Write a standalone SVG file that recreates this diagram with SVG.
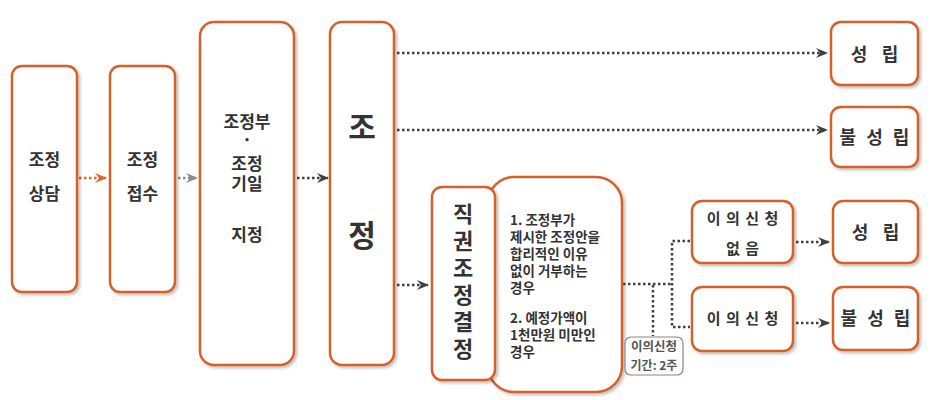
<svg xmlns="http://www.w3.org/2000/svg" width="937" height="400" viewBox="0 0 937 400">
<defs>
<filter id="sh" x="-20%" y="-20%" width="140%" height="140%">
<feDropShadow dx="2" dy="2" stdDeviation="1.5" flood-color="#000" flood-opacity="0.25"/>
</filter>
<marker id="ad" viewBox="0 0 12 10" refX="11" refY="5" markerWidth="12" markerHeight="10" markerUnits="userSpaceOnUse" orient="auto">
<path d="M0,0 L12,5 L0,10 L4,5 Z" fill="#404040"/>
</marker>
<marker id="ag" viewBox="0 0 12 10" refX="11" refY="5" markerWidth="12" markerHeight="10" markerUnits="userSpaceOnUse" orient="auto">
<path d="M0,0 L12,5 L0,10 L4,5 Z" fill="#8a8a8a"/>
</marker>
<marker id="ao" viewBox="0 0 12 10" refX="11" refY="5" markerWidth="12" markerHeight="10" markerUnits="userSpaceOnUse" orient="auto">
<path d="M0,0 L12,5 L0,10 L4,5 Z" fill="#E0662B"/>
</marker>
</defs>
<style>
.b{fill:#fff;stroke:#D4602A;stroke-width:2.5;filter:url(#sh)}
.t{font-family:"Noto Sans CJK KR","Noto Sans",sans-serif;font-weight:bold;fill:#333;text-anchor:middle}
.m{font-size:17px}
.r{font-size:18px}
.w{letter-spacing:3px}
.s{font-size:13.5px;text-anchor:start}
.big{font-size:30px}
.q{font-size:15px;letter-spacing:1px}
.d{fill:none;stroke:#404040;stroke-width:2.5;stroke-dasharray:2.5 2.5}
</style>
<g id="connectors">
<line x1="79" y1="178" x2="106" y2="178" class="d" style="stroke:#E0662B" marker-end="url(#ao)"/>
<line x1="178" y1="178" x2="197" y2="178" class="d" style="stroke:#8a8a8a" marker-end="url(#ag)"/>
<line x1="297" y1="178" x2="328" y2="178" class="d" marker-end="url(#ad)"/>
<line x1="397" y1="53" x2="827" y2="53" class="d" marker-end="url(#ad)"/>
<line x1="397" y1="130" x2="827" y2="130" class="d" marker-end="url(#ad)"/>
<line x1="397" y1="285" x2="428" y2="285" class="d" marker-end="url(#ad)"/>
<polyline points="623,284 672,284" class="d"/>
<polyline points="690,241 672,241 672,327 690,327" class="d"/>
<line x1="653" y1="285" x2="653" y2="336" class="d"/>
<line x1="796" y1="242" x2="829" y2="242" class="d" marker-end="url(#ad)"/>
<line x1="796" y1="323" x2="829" y2="323" class="d" marker-end="url(#ad)"/>
</g>
<g id="n1">
<rect x="12" y="66" width="65" height="226" rx="10" class="b"/>
<text x="44.5" y="166" class="t m">조정</text>
<text x="44.5" y="200" class="t m">상담</text>
</g>
<g id="n2">
<rect x="110" y="66" width="65" height="226" rx="10" class="b"/>
<text x="142.5" y="166" class="t m">조정</text>
<text x="142.5" y="200" class="t m">접수</text>
</g>
<g id="n3">
<rect x="200" y="22" width="94" height="343" rx="14" class="b"/>
<text x="247" y="128" class="t m">조정부</text>
<text x="247" y="146" class="t m">·</text>
<text x="247" y="170" class="t m">조정</text>
<text x="247" y="190" class="t m">기일</text>
<text x="247" y="241" class="t m">지정</text>
</g>
<g id="n4">
<rect x="330" y="22" width="64" height="343" rx="12" class="b"/>
<text x="362" y="138" class="t big">조</text>
<text x="362" y="246" class="t big">정</text>
</g>
<g id="n5">
<rect x="831" y="22" width="87" height="63" rx="10" class="b"/>
<text x="859" y="61" class="t r">성</text>
<text x="890" y="61" class="t r">립</text>
</g>
<g id="n6">
<rect x="831" y="107" width="87" height="60" rx="10" class="b"/>
<text x="876" y="144" class="t r w">불 성 립</text>
</g>
<g id="n7b">
<rect x="488" y="177" width="134" height="215" rx="26" class="b"/>
<text class="t s" x="510">
<tspan x="510" y="225">1. 조정부가</tspan>
<tspan x="510" y="242">제시한 조정안을</tspan>
<tspan x="510" y="259">합리적인 이유</tspan>
<tspan x="510" y="276">없이 거부하는</tspan>
<tspan x="510" y="293">경우</tspan>
<tspan x="510" y="323">2. 예정가액이</tspan>
<tspan x="510" y="340">1천만원 미만인</tspan>
<tspan x="510" y="357">경우</tspan>
</text>
</g>
<g id="n7">
<rect x="432" y="187" width="63" height="193" rx="10" class="b"/>
<text x="463" y="284" class="t" style="font-size:22px;writing-mode:vertical-rl;letter-spacing:5px">직권조정결정</text>
</g>
<g id="lbl">
<rect x="625" y="337" width="58" height="38" rx="6" fill="#fff" stroke="#888" stroke-width="1.2"/>
<text x="654" y="351" class="t" style="font-size:12.5px;fill:#555">이의신청</text>
<text x="654" y="370" class="t" style="font-size:12px;fill:#555">기간: 2주</text>
</g>
<g id="n8">
<rect x="692" y="201" width="101" height="62" rx="10" class="b"/>
<text x="743" y="224" class="t q">이 의 신 청</text>
<text x="743" y="254" class="t q">없 음</text>
</g>
<g id="n9">
<rect x="692" y="287" width="101" height="64" rx="10" class="b"/>
<text x="743" y="324" class="t q">이 의 신 청</text>
</g>
<g id="n10">
<rect x="833" y="201" width="85" height="62" rx="10" class="b"/>
<text x="860" y="239" class="t r">성</text>
<text x="891" y="239" class="t r">립</text>
</g>
<g id="n11">
<rect x="833" y="287" width="85" height="63" rx="10" class="b"/>
<text x="877" y="325" class="t r w">불 성 립</text>
</g>
</svg>
